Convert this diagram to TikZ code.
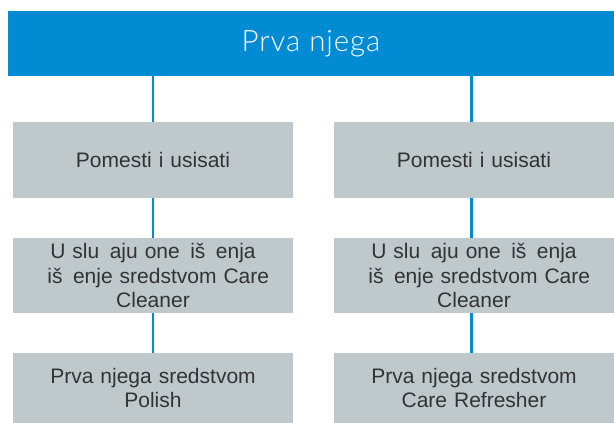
\documentclass[tikz,border=0pt]{standalone}
\usepackage{fontspec}
\setmainfont{Liberation Sans}
\newfontfamily\titlefont[LetterSpace=3]{Lato Light}
\definecolor{bannerblue}{HTML}{008BD2}
\definecolor{boxgray}{HTML}{BFC9CC}
\definecolor{txtgray}{HTML}{333333}
\begin{document}
\begin{tikzpicture}[x=1pt,y=-1pt,
  stepbox/.style={fill=boxgray, draw=none, inner sep=0pt, minimum width=280pt,
    text width=272pt, align=center, text=txtgray,
    font=\fontsize{21}{24.3}\selectfont},
  link/.style={draw=bannerblue, line width=2.3pt},
  banner/.style={fill=bannerblue, draw=none, minimum width=606pt, minimum height=64.7pt,
    inner sep=0pt, text=white, font=\titlefont\fontsize{29.5}{33}\selectfont}]
\useasboundingbox (0,0) rectangle (614,423);
\node[banner] (top) at (311,43.35) {Prva njega};
\coordinate (lx) at (153,0);
\coordinate (rx) at (471.5,0);
\node[stepbox, minimum height=75.7pt] (l1) at (153,159.85) {Pomesti i usisati};
\node[stepbox, minimum height=75.7pt] (r1) at (474,159.85) {Pomesti i usisati};
\node[stepbox, minimum height=75pt] (l2) at (153,275.5) {U slu\phantom{c}aju one\phantom{c}i\v{s}\phantom{c}enja\\ \phantom{c}i\v{s}\phantom{c}enje sredstvom Care\\ Cleaner};
\node[stepbox, minimum height=75pt] (r2) at (474,275.5) {U slu\phantom{c}aju one\phantom{c}i\v{s}\phantom{c}enja\\ \phantom{c}i\v{s}\phantom{c}enje sredstvom Care\\ Cleaner};
\node[stepbox, minimum height=70pt] (l3) at (153,388) {Prva njega sredstvom\\ Polish};
\node[stepbox, minimum height=70pt] (r3) at (474,388) {Prva njega sredstvom\\ Care Refresher};
\draw[link] (top.south -| lx) -- (l1.north -| lx);
\draw[link] (l1.south -| lx) -- (l2.north -| lx);
\draw[link] (l2.south -| lx) -- (l3.north -| lx);
\draw[link] (top.south -| rx) -- (r1.north -| rx);
\draw[link] (r1.south -| rx) -- (r2.north -| rx);
\draw[link] (r2.south -| rx) -- (r3.north -| rx);
\end{tikzpicture}
\end{document}
